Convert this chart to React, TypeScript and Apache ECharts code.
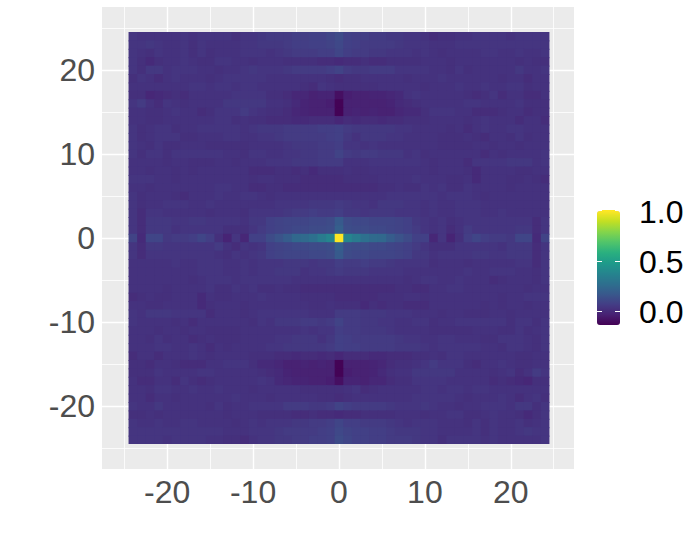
import React, { useEffect, useRef } from "react";
import * as echarts from "echarts";

const W = 700;
const H = 555;
const xLags = [-24,-23,-22,-21,-20,-19,-18,-17,-16,-15,-14,-13,-12,-11,-10,-9,-8,-7,-6,-5,-4,-3,-2,-1,0,1,2,3,4,5,6,7,8,9,10,11,12,13,14,15,16,17,18,19,20,21,22,23,24];
const majorTicks = [-20, -10, 0, 10, 20];
const minorLines = [-25, -15, -5, 5, 15, 25];
const legendLabels = ["1.0", "0.5", "0.0"];
const legendValues = [1, 0.5, 0];
const viridis = ["#440154","#482173","#433e85","#38598c","#2d708e","#25858e","#1e9b8a","#2ab07f","#51c56a","#85d54a","#c2df23","#fde725"];

// Cell values in hundredths as read by eye, row by row from y = 24 down to y = -24, columns from x = -24 to x = 24.
const hundredths: number[][] = [
[3,2,2,2,2,2,3,2,3,3,3,3,1,3,3,4,5,5,5,6,6,7,7,9,11,7,6,6,5,5,4,4,3,3,2,0,1,1,2,2,3,3,3,3,2,3,3,3,3],
[3,3,4,3,2,2,3,1,3,2,2,2,2,3,3,4,4,4,5,6,6,7,7,8,10,7,6,5,5,5,5,4,3,3,3,2,2,2,3,3,3,3,3,3,3,3,3,3,3],
[3,2,1,3,2,2,3,1,3,1,2,2,2,3,3,3,2,3,4,5,5,5,6,6,9,6,5,5,4,4,3,3,3,2,3,2,1,2,2,2,2,3,3,2,2,3,2,2,3],
[3,1,-1,1,2,2,3,2,1,1,3,3,2,2,1,2,2,2,1,1,1,1,0,0,-1,0,0,1,0,0,1,1,1,1,2,2,2,1,2,2,2,2,2,2,2,1,2,1,1],
[3,1,4,4,2,3,3,3,2,2,1,2,2,3,4,3,3,3,4,5,5,5,5,6,8,5,4,4,5,5,5,3,3,3,3,2,2,1,3,1,2,2,2,2,2,4,2,2,3],
[1,3,2,0,2,3,2,2,2,1,2,3,3,3,3,3,2,2,2,2,2,2,2,1,0,1,1,2,2,2,2,2,1,2,2,2,3,2,2,2,2,2,2,1,2,2,0,2,2],
[2,2,2,2,2,2,2,3,3,2,3,3,2,3,3,2,2,2,2,2,1,0,3,2,1,1,1,1,1,2,2,2,2,2,1,2,2,2,3,2,2,3,2,2,3,3,1,2,2],
[1,1,-2,-1,0,1,0,2,2,2,2,2,3,3,3,3,1,1,0,-2,-2,-4,-3,-3,-10,-5,-4,-4,-3,-3,-2,-1,2,3,2,2,2,2,2,1,0,1,3,0,2,2,0,0,2],
[3,5,2,0,3,2,1,2,2,2,2,4,4,4,4,4,2,2,1,-1,-3,-4,-4,-5,-14,-4,-4,-4,-4,-4,-3,-1,0,1,2,2,2,2,2,3,3,2,2,2,2,3,1,1,1],
[2,2,1,1,2,3,2,2,0,1,3,3,3,5,3,2,1,1,0,-2,-3,-4,-4,-4,-14,-4,-3,-4,-3,-4,-4,-2,-1,-1,1,3,3,3,2,2,0,0,0,1,2,2,0,1,1],
[2,2,1,1,2,2,2,2,2,2,3,3,1,2,1,1,0,0,0,-1,-1,0,0,0,-2,0,-1,0,0,-1,0,0,1,1,1,2,2,2,2,1,2,3,2,2,2,0,2,2,0],
[3,1,2,3,3,1,2,2,3,3,3,3,3,2,3,4,4,4,5,5,5,5,6,6,7,5,4,4,4,4,4,3,3,2,2,2,2,1,2,0,2,3,2,2,3,3,2,2,2],
[3,1,2,3,3,3,1,1,2,2,2,3,3,2,2,3,3,4,5,5,5,5,5,6,7,4,2,4,4,4,3,3,2,2,2,2,1,1,1,2,1,0,2,2,1,3,1,2,2],
[3,2,1,3,1,1,2,2,2,1,1,1,1,1,2,2,2,2,3,4,4,4,5,5,6,3,3,2,3,2,2,2,2,2,2,2,1,1,1,1,2,2,1,2,2,1,2,2,2],
[3,1,3,3,1,3,3,3,3,3,3,2,2,1,3,3,2,2,3,3,4,4,5,5,8,5,4,5,5,4,4,4,2,3,1,2,2,2,2,2,2,0,2,1,2,2,2,2,3],
[2,2,2,2,1,2,2,1,1,1,2,2,1,2,2,2,3,3,3,4,4,4,5,5,5,2,2,2,3,3,3,3,3,3,2,1,2,2,2,0,3,3,3,3,4,4,4,2,3],
[2,2,1,2,2,1,2,1,2,2,2,2,2,2,0,0,0,1,1,0,1,-1,1,1,1,2,1,1,2,2,2,2,2,2,2,1,2,2,2,1,-1,2,2,2,2,1,1,2,2],
[3,3,3,2,2,1,2,2,2,2,2,2,2,2,1,2,2,1,1,1,0,0,0,0,0,1,1,1,1,2,2,2,2,3,2,2,2,1,1,2,-1,2,2,2,1,1,2,1,0],
[2,2,1,2,2,2,2,2,2,2,3,3,2,2,0,0,1,1,0,0,0,0,0,0,0,0,0,0,0,1,1,2,1,1,3,2,3,1,1,3,2,2,2,2,1,2,2,2,2],
[3,1,2,2,2,1,0,2,2,2,3,2,2,3,3,2,1,2,2,2,2,2,2,2,2,2,2,2,2,2,3,3,3,3,3,3,2,3,3,3,2,1,2,2,2,2,2,2,2],
[3,1,2,2,3,3,3,2,2,3,2,2,2,2,2,2,2,3,3,3,3,4,4,4,5,4,3,3,2,4,4,4,3,3,2,3,2,2,3,3,3,2,2,2,2,2,2,2,2],
[3,0,3,3,2,2,2,2,2,1,2,2,2,1,3,3,3,3,4,5,5,6,5,5,6,4,4,3,4,4,4,3,3,3,2,3,2,2,3,3,3,2,2,3,2,2,2,2,2],
[3,0,4,4,4,3,3,4,4,3,3,3,3,2,4,4,7,8,9,9,9,10,10,11,17,11,10,10,9,9,9,8,7,4,3,2,3,1,2,3,3,3,3,3,3,3,3,0,3],
[3,0,4,4,4,2,3,3,3,3,3,1,1,1,3,5,7,8,9,10,10,11,11,12,19,12,11,11,10,10,9,8,7,5,3,2,3,0,2,5,3,3,3,3,3,4,4,0,3],
[8,-1,9,9,4,5,5,6,9,6,1,-3,3,-2,7,7,11,14,18,23,24,27,32,37,100,37,32,27,24,23,18,14,11,7,7,-2,3,-3,1,6,9,6,5,5,4,9,9,-1,8],
[3,0,4,4,3,3,3,3,3,3,5,2,0,3,2,3,7,8,9,10,10,11,11,12,19,12,11,11,10,10,9,8,7,5,3,1,1,1,3,3,3,3,3,2,4,4,4,0,3],
[3,0,3,3,3,3,3,3,3,3,2,1,3,2,3,4,7,8,9,9,9,10,10,11,17,11,10,10,9,9,9,8,7,4,4,2,3,3,3,3,4,4,3,3,4,4,4,0,3],
[2,2,2,2,2,3,2,2,3,3,3,2,2,3,2,3,3,3,4,4,4,3,4,4,6,5,5,6,5,5,4,3,3,3,3,1,2,2,2,1,2,2,2,2,2,3,3,0,3],
[2,2,2,2,2,2,2,2,3,3,3,2,2,3,2,3,3,4,4,4,2,3,3,4,5,4,4,4,3,3,3,3,2,2,2,2,2,2,2,3,2,2,3,3,3,2,2,1,3],
[2,2,2,2,2,2,2,1,2,3,3,3,2,3,3,3,3,3,3,2,2,2,2,2,2,2,2,2,2,2,2,2,1,2,3,3,2,2,3,2,2,2,0,1,2,2,2,1,3],
[2,2,2,2,1,2,2,2,2,3,1,1,3,2,3,1,1,2,1,1,0,0,0,0,0,0,0,0,0,0,0,1,1,0,0,2,2,3,3,2,2,2,2,2,2,2,1,2,2],
[0,1,2,1,1,2,2,2,-1,2,1,1,2,2,2,3,2,2,2,2,1,1,1,1,0,0,0,0,0,1,1,1,2,2,1,2,2,2,2,2,2,2,2,1,2,2,3,3,3],
[2,2,1,1,2,2,2,2,-1,1,2,2,2,1,2,2,2,2,2,2,2,1,1,2,1,1,1,-1,1,0,1,1,0,0,0,2,2,2,2,2,2,1,2,1,2,2,1,2,2],
[3,2,4,4,4,3,3,3,3,0,2,2,2,1,2,3,3,3,3,3,3,2,2,2,5,5,5,4,4,4,3,3,3,2,2,2,1,2,2,1,1,1,2,2,1,2,2,2,2],
[3,2,2,2,2,1,2,0,2,2,2,2,2,2,1,3,2,4,4,4,5,5,4,5,8,5,5,4,4,3,3,2,2,3,3,1,2,2,3,3,3,3,3,3,1,3,3,1,3],
[2,2,2,1,2,2,1,2,2,1,1,1,1,2,2,2,2,2,2,2,3,2,3,3,6,5,5,4,4,4,3,2,2,2,2,1,1,1,1,1,2,2,2,1,1,3,1,2,3],
[2,2,1,3,1,2,2,0,1,2,1,1,1,2,2,2,2,3,3,4,4,4,2,4,7,6,5,5,5,5,5,4,3,3,2,2,3,3,2,2,2,1,1,3,3,3,2,1,3],
[2,2,2,3,3,2,2,3,2,0,2,1,2,2,2,2,3,3,4,4,4,4,4,5,7,6,6,5,5,5,5,4,4,4,3,2,3,3,3,3,3,2,2,1,3,3,2,1,3],
[0,2,2,0,2,2,2,3,2,1,2,2,2,2,1,1,1,0,0,-1,0,0,-1,0,-2,0,0,0,-1,-1,0,0,0,1,1,2,1,3,3,2,2,2,2,2,2,1,1,2,2],
[1,1,0,2,2,1,0,0,0,2,2,3,3,3,1,-1,-1,-2,-4,-4,-3,-4,-3,-4,-14,-4,-4,-4,-3,-2,0,1,1,2,3,5,3,3,3,1,0,2,2,3,2,1,1,2,2],
[1,1,1,3,2,2,2,2,3,3,2,2,2,2,2,1,0,-1,-3,-4,-4,-4,-4,-4,-14,-5,-4,-4,-3,-1,1,2,2,4,4,4,4,4,2,2,2,2,1,2,3,0,2,5,3],
[2,0,0,2,2,0,3,1,0,1,2,2,2,2,2,3,2,-1,-2,-3,-3,-4,-4,-5,-10,-3,-3,-4,-2,-2,0,1,1,3,3,3,3,2,2,2,2,2,0,1,0,-1,-2,1,1],
[2,2,1,3,3,2,2,3,2,2,3,2,2,2,1,2,2,2,2,2,1,1,1,1,1,2,3,0,1,2,2,2,2,2,3,3,2,3,3,2,3,3,2,2,2,2,2,2,2],
[2,2,0,2,2,1,2,2,2,2,2,2,3,2,2,2,1,2,2,2,2,2,1,1,0,1,2,2,2,2,2,2,2,3,3,3,3,3,2,1,2,2,2,3,2,0,2,3,1],
[3,2,2,4,2,2,2,2,2,1,3,1,2,2,3,3,3,3,5,5,5,4,4,5,8,6,5,5,5,5,4,3,3,3,4,3,2,2,1,2,2,3,3,3,2,4,4,1,3],
[1,1,2,1,2,2,2,2,2,2,2,1,2,2,2,1,1,1,1,0,0,1,0,0,-1,0,0,1,1,1,1,2,2,2,1,2,2,3,3,1,1,2,3,2,2,1,-1,1,3],
[3,2,2,3,2,2,3,3,2,2,2,2,1,2,3,2,3,3,3,4,4,5,5,6,9,6,6,5,5,5,4,3,2,3,3,3,2,2,2,1,3,1,3,2,2,3,1,2,3],
[3,3,3,3,3,3,3,3,3,3,3,2,2,2,3,3,3,4,5,5,5,5,6,7,10,8,7,7,6,6,5,4,4,4,3,3,2,2,2,2,3,1,3,2,2,3,4,3,3],
[3,3,3,3,2,3,3,3,3,2,2,1,1,0,2,3,3,4,4,5,5,6,6,7,11,9,7,7,6,6,5,5,5,4,3,3,1,3,3,3,3,2,3,2,2,2,2,2,3],
];

// The by-eye readings came out one hundredth dark against the reference's colours.
const readingBias = 0.01;
const xRange = [-27.59, 27.36];
const yRange = [-27.47, 27.47];
const GREY = "#4d4d4d";
const FONT = "Liberation Sans";
const lastLag = xLags[xLags.length - 1];

function renderCell(_params: any, api: any) {
  const x = api.value(0);
  const y = api.value(1);
  const a = api.coord([x - 0.5, y + 0.5]);
  const b = api.coord([x + 0.5, y - 0.5]);
  return {
    type: "rect",
    shape: {
      x: a[0],
      y: a[1],
      width: b[0] - a[0] + (x < lastLag ? 1 : 0),
      height: b[1] - a[1] + (y > -lastLag ? 1 : 0),
    },
    style: { fill: api.visual("color") },
    silent: true,
  };
}

function majorAxis(range: number[], position: string) {
  return {
    type: "value",
    position,
    min: range[0],
    max: range[1],
    axisLine: { show: false },
    axisTick: { show: true, length: 4, customValues: majorTicks, lineStyle: { color: "#333333", width: 1.2 } },
    axisLabel: { show: true, customValues: majorTicks, margin: 7, fontSize: 32, color: GREY, fontFamily: FONT },
    splitLine: { show: true, lineStyle: { color: "#ffffff", width: 1.4 } },
    minorSplitLine: { show: false },
  };
}

function minorAxis(range: number[], position: string) {
  return {
    type: "value",
    position,
    min: range[0],
    max: range[1],
    axisLine: { show: false },
    axisTick: { show: false, customValues: minorLines },
    axisLabel: { show: false, customValues: minorLines },
    splitLine: { show: true, lineStyle: { color: "#ffffff", width: 0.8 } },
  };
}

export default function App() {
  const ref = useRef<HTMLDivElement>(null);
  useEffect(() => {
    const chart = echarts.init(ref.current!, null, { renderer: "svg", width: W, height: H });
    const cells: number[][] = [];
    hundredths.forEach((row, r) => {
      row.forEach((v, c) => {
        cells.push([xLags[c], xLags[xLags.length - 1 - r], v / 100 + readingBias]);
      });
    });
    const legendGraphics: any[] = [
      { type: "rect", shape: { x: 602, y: 210, width: 13, height: 1 }, style: { fill: "#fde725" }, z: 10, silent: true },
    ];
    legendValues.forEach((v, i) => {
      const y = 311.5 - v * 100;
      if (v < 1) {
        legendGraphics.push({ type: "line", shape: { x1: 597, y1: y, x2: 602, y2: y }, style: { stroke: "#ffffff", lineWidth: 1 }, z: 10, silent: true });
        legendGraphics.push({ type: "line", shape: { x1: 615, y1: y, x2: 620, y2: y }, style: { stroke: "#ffffff", lineWidth: 1 }, z: 10, silent: true });
      }
      legendGraphics.push({
        type: "text",
        x: 639,
        y: y + 0.5,
        z: 10,
        silent: true,
        style: { text: legendLabels[i], fontSize: 32, fontFamily: FONT, fill: "#000000", verticalAlign: "middle", align: "left" },
      });
    });
    chart.setOption({
      animation: false,
      backgroundColor: "#ffffff",
      grid: { left: 102, top: 7, width: 472, height: 462, show: true, backgroundColor: "#ebebeb", borderWidth: 0 },
      xAxis: [majorAxis(xRange, "bottom"), minorAxis(xRange, "top")],
      yAxis: [majorAxis(yRange, "left"), minorAxis(yRange, "right")],
      visualMap: {
        type: "continuous",
        seriesIndex: 0,
        dimension: 2,
        min: -0.135,
        max: 1,
        left: 597,
        top: 211,
        padding: 0,
        itemWidth: 23,
        itemHeight: 114,
        calculable: false,
        hoverLink: false,
        inRange: { color: viridis },
      },
      series: [
        {
          type: "custom",
          xAxisIndex: 0,
          yAxisIndex: 0,
          renderItem: renderCell,
          encode: { x: 0, y: 1 },
          data: cells,
          silent: true,
        },
      ],
      graphic: legendGraphics,
    });
    return () => chart.dispose();
  }, []);
  return <div ref={ref} style={{ position: "absolute", left: 0, top: 0, width: W, height: H }} />;
}
